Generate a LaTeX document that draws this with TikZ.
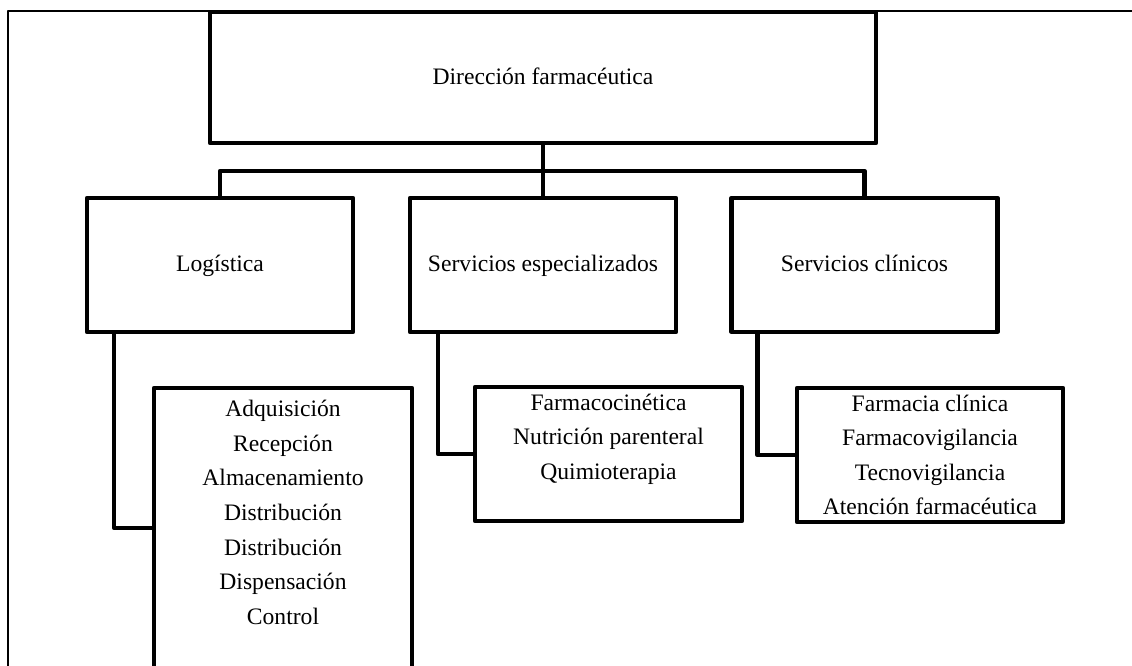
\documentclass[tikz,border=0pt]{standalone}
\usepackage{fontspec}
\setmainfont{Liberation Serif}
\usetikzlibrary{calc}

\begin{document}
\begin{tikzpicture}
    [x=0.75pt, y=-0.75pt, line join=round,
     font=\fontsize{17.7}{25.9}\selectfont,
     unitbox/.style={draw, line width=3.2pt, inner sep=0pt, align=center,
       minimum width=199.5pt, minimum height=100.5pt},
     subbox/.style={unitbox},
     link/.style={line width=3.2pt}]
    \clip (0,0) rectangle (1132,666);
    \draw[line width=1pt] (8,720) -- (8,11) -- (1180,11);
    \node[unitbox, minimum width=499.5pt, minimum height=98.25pt] (dir) at (543,77.5) {Dirección farmacéutica\strut};
    \node[unitbox] (log) at (220,265) {Logística\strut};
    \node[unitbox] (esp) at (543,265) {Servicios especializados\strut};
    \node[unitbox] (clin) at (864.5,265) {Servicios clínicos\strut};
    \node[subbox, minimum width=193.5pt, minimum height=238.5pt] (logsub) at (283,547)
      {Adquisición\\Recepción\\Almacenamiento\\Distribución\\Distribución\\Dispensación\\Control\\ \strut\\[-7.5pt]\strut};
    \node[subbox, minimum width=200.25pt] (espsub) at (608.5,454)
      {Farmacocinética\\Nutrición parenteral\\Quimioterapia\\[-7.5pt]\strut};
    \node[subbox] (clinsub) at (930,455)
      {Farmacia clínica\\Farmacovigilancia\\Tecnovigilancia\\Atención farmacéutica};
    \coordinate (bus) at (543,171);
    \draw[link] (dir.south) -- (esp.north);
    \draw[link] (log.north) |- (bus) -| (clin.north);
    \draw[link] ($(log.south west)+(29,0)$) |- ($(logsub.north west)+(0,142)$);
    \draw[link] ($(esp.south west)+(30,0)$) |- (espsub.west);
    \draw[link] ($(clin.south west)+(28,0)$) |- (clinsub.west);
  \end{tikzpicture}
\end{document}
